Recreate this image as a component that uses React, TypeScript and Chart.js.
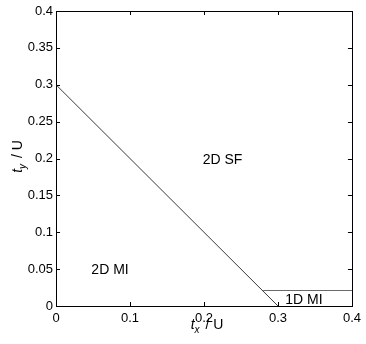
import React, { useEffect, useRef } from "react";
import { Chart, registerables } from "chart.js";

Chart.register(...registerables);

const boundaryX = [0, 0.3];
const boundaryY = [0.3, 0];
const oneDX = [0.28, 0.4];
const oneDY = [0.021, 0.021];
const regionNames = ["2D SF", "2D MI", "1D MI"];
const regionX = [0.225, 0.073, 0.335];
const regionY = [0.198, 0.049, 0.008];
const xTicks = [0, 0.1, 0.2, 0.3, 0.4];
const yTicks = [0, 0.05, 0.1, 0.15, 0.2, 0.25, 0.3, 0.35, 0.4];

const FONT = '"Liberation Sans", Arial, Helvetica, sans-serif';

const framePlugin = {
  id: "frame",
  afterDraw(chart: any) {
    const { ctx, chartArea: a, scales } = chart;
    const xs = scales.x;
    const ys = scales.y;
    ctx.save();
    ctx.strokeStyle = "#000";
    ctx.lineWidth = 1;
    ctx.strokeRect(Math.round(a.left) + 0.5, Math.round(a.top) + 0.5, Math.round(a.right - a.left), Math.round(a.bottom - a.top));
    const tl = 4;
    ctx.beginPath();
    xTicks.forEach((v) => {
      const px = Math.round(xs.getPixelForValue(v)) + 0.5;
      ctx.moveTo(px, a.bottom);
      ctx.lineTo(px, a.bottom - tl);
      ctx.moveTo(px, a.top);
      ctx.lineTo(px, a.top + tl);
    });
    yTicks.forEach((v) => {
      const py = Math.round(ys.getPixelForValue(v)) + 0.5;
      ctx.moveTo(a.left, py);
      ctx.lineTo(a.left + tl, py);
      ctx.moveTo(a.right, py);
      ctx.lineTo(a.right - tl, py);
    });
    ctx.stroke();

    // region labels
    ctx.fillStyle = "#000";
    ctx.font = `14px ${FONT}`;
    ctx.textAlign = "center";
    ctx.textBaseline = "middle";
    regionNames.forEach((n, i) => {
      ctx.fillText(n, xs.getPixelForValue(regionX[i]), ys.getPixelForValue(regionY[i]));
    });

    // axis titles
    const drawTitle = (sub: string) => {
      const mainFont = `italic 14px ${FONT}`;
      const subFont = `italic 10px ${FONT}`;
      const restFont = `14px ${FONT}`;
      const gap = 2;
      ctx.font = mainFont;
      const wT = ctx.measureText("t").width;
      ctx.font = subFont;
      const wS = ctx.measureText(sub).width;
      ctx.font = restFont;
      const rest = " / U";
      const wR = ctx.measureText(rest).width;
      const total = wT + wS + gap + wR;
      let x = -total / 2;
      ctx.textAlign = "left";
      ctx.textBaseline = "alphabetic";
      ctx.font = mainFont;
      ctx.fillText("t", x, 0);
      x += wT;
      ctx.font = subFont;
      ctx.fillText(sub, x, 4);
      x += wS + gap;
      ctx.font = restFont;
      ctx.fillText(rest, x, 0);
    };
    ctx.save();
    ctx.translate((a.left + a.right) / 2 + 3, 329);
    drawTitle("x");
    ctx.restore();
    ctx.save();
    ctx.translate(22, (a.top + a.bottom) / 2 - 2);
    ctx.rotate(-Math.PI / 2);
    drawTitle("y");
    ctx.restore();
    ctx.restore();
  },
};

export default function App() {
  const ref = useRef<HTMLCanvasElement | null>(null);
  useEffect(() => {
    if (!ref.current) return;
    const chart = new Chart(ref.current, {
      type: "scatter",
      data: {
        datasets: [
          {
            data: boundaryX.map((x, i) => ({ x, y: boundaryY[i] })),
            showLine: true,
            borderColor: "#3a3a3a",
            borderWidth: 1,
            pointRadius: 0,
          },
          {
            data: oneDX.map((x, i) => ({ x, y: oneDY[i] })),
            showLine: true,
            borderColor: "#6a6a6a",
            borderWidth: 1,
            pointRadius: 0,
          },
        ],
      },
      options: {
        responsive: false,
        animation: false,
        layout: { padding: { left: 0, right: 13, top: 11, bottom: 0 } },
        plugins: { legend: { display: false }, tooltip: { enabled: false } },
        scales: {
          x: {
            type: "linear",
            min: 0,
            max: 0.4,
            afterFit: (s: any) => {
              s.height = 38;
            },
            afterBuildTicks: (s: any) => {
              s.ticks = xTicks.map((v) => ({ value: v }));
            },
            grid: { display: false, drawTicks: false },
            border: { display: false },
            ticks: {
              padding: 5,
              color: "#000",
              font: { family: FONT, size: 13 },
              maxRotation: 0,
              callback: (v: any) => String(v),
            },
          },
          y: {
            type: "linear",
            min: 0,
            max: 0.4,
            afterFit: (s: any) => {
              s.width = 56;
            },
            afterBuildTicks: (s: any) => {
              s.ticks = yTicks.map((v) => ({ value: v }));
            },
            grid: { display: false, drawTicks: false },
            border: { display: false },
            ticks: {
              padding: 3,
              color: "#000",
              font: { family: FONT, size: 13 },
              callback: (v: any) => String(v),
            },
          },
        },
      },
      plugins: [framePlugin],
    });
    return () => chart.destroy();
  }, []);
  return (
    <div style={{ position: "fixed", left: 0, top: 0, width: 366, height: 344, background: "#fff" }}>
      <canvas ref={ref} width={366} height={344} style={{ display: "block" }} />
    </div>
  );
}
